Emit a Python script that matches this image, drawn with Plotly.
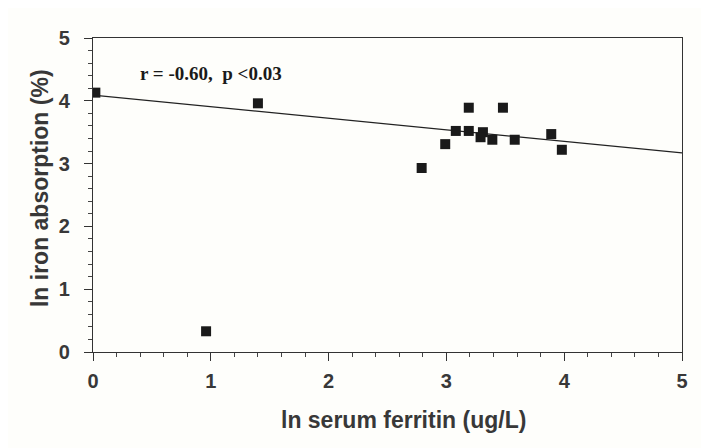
import plotly.graph_objects as go

ferritin = [0.02, 0.96, 1.40, 2.79, 2.99, 3.08, 3.19, 3.19, 3.31, 3.29, 3.39, 3.48, 3.58, 3.89, 3.98]
absorption = [4.13, 0.33, 3.96, 2.93, 3.31, 3.52, 3.52, 3.89, 3.50, 3.42, 3.38, 3.89, 3.38, 3.47, 3.22]
fit_x = [0, 5]
fit_y = [4.09, 3.17]
x_ticks = [0, 1, 2, 3, 4, 5]
y_ticks = [0, 1, 2, 3, 4, 5]
annotation_text = "<b>r = -0.60,  p <0.03</b>"
x_title = "ln serum ferritin (ug/L)"
y_title = "ln iron absorption (%)"

fig = go.Figure()
fig.add_trace(go.Scatter(x=fit_x, y=fit_y, mode="lines",
                         line=dict(color="#222222", width=1.3), showlegend=False, hoverinfo="skip"))
fig.add_trace(go.Scatter(x=ferritin, y=absorption, mode="markers",
                         marker=dict(symbol="square", size=10, color="#1a1a1a"), showlegend=False))

fig.add_annotation(x=1.0, y=4.43, text=annotation_text, showarrow=False,
                   font=dict(family="Liberation Serif, Times New Roman, serif", size=19, color="#1a1a1a"),
                   xanchor="center", yanchor="middle")

title_font = dict(family="Liberation Sans, Arial, sans-serif", size=23, color="#383838", weight="bold")
fig.add_annotation(xref="paper", yref="paper", x=0.528, y=-0.217, text=x_title, showarrow=False,
                   font=title_font, xanchor="center", yanchor="middle")
fig.add_annotation(xref="paper", yref="paper", x=-0.09, y=0.522, text=y_title, showarrow=False,
                   textangle=-90, font=title_font, xanchor="center", yanchor="middle")

tick_font = dict(family="Liberation Sans, Arial, sans-serif", size=20, color="#383838", weight="bold")

axis_common = dict(showgrid=False, zeroline=False, showline=True, linecolor="#333333", linewidth=1.3,
                   mirror=True, ticks="outside", ticklen=8, tickwidth=1.2, tickcolor="#333333",
                   tickfont=tick_font, automargin=False,
                   minor=dict(dtick=0.2, ticks="outside", ticklen=4, tickcolor="#444444", tickwidth=1),
                   fixedrange=True)

fig.update_layout(
    width=701, height=440,
    margin=dict(l=85, r=27, t=30, b=96),
    paper_bgcolor="#fefefb", plot_bgcolor="#fefefb",
    xaxis=dict(range=[0, 5], tickvals=x_ticks, ticktext=[str(v) for v in x_ticks],
               ticklabelstandoff=3, **axis_common),
    yaxis=dict(range=[0, 5], tickvals=y_ticks, ticktext=[str(v) for v in y_ticks],
               ticklabelstandoff=10, **axis_common),
)

fig.write_html("out.html")
